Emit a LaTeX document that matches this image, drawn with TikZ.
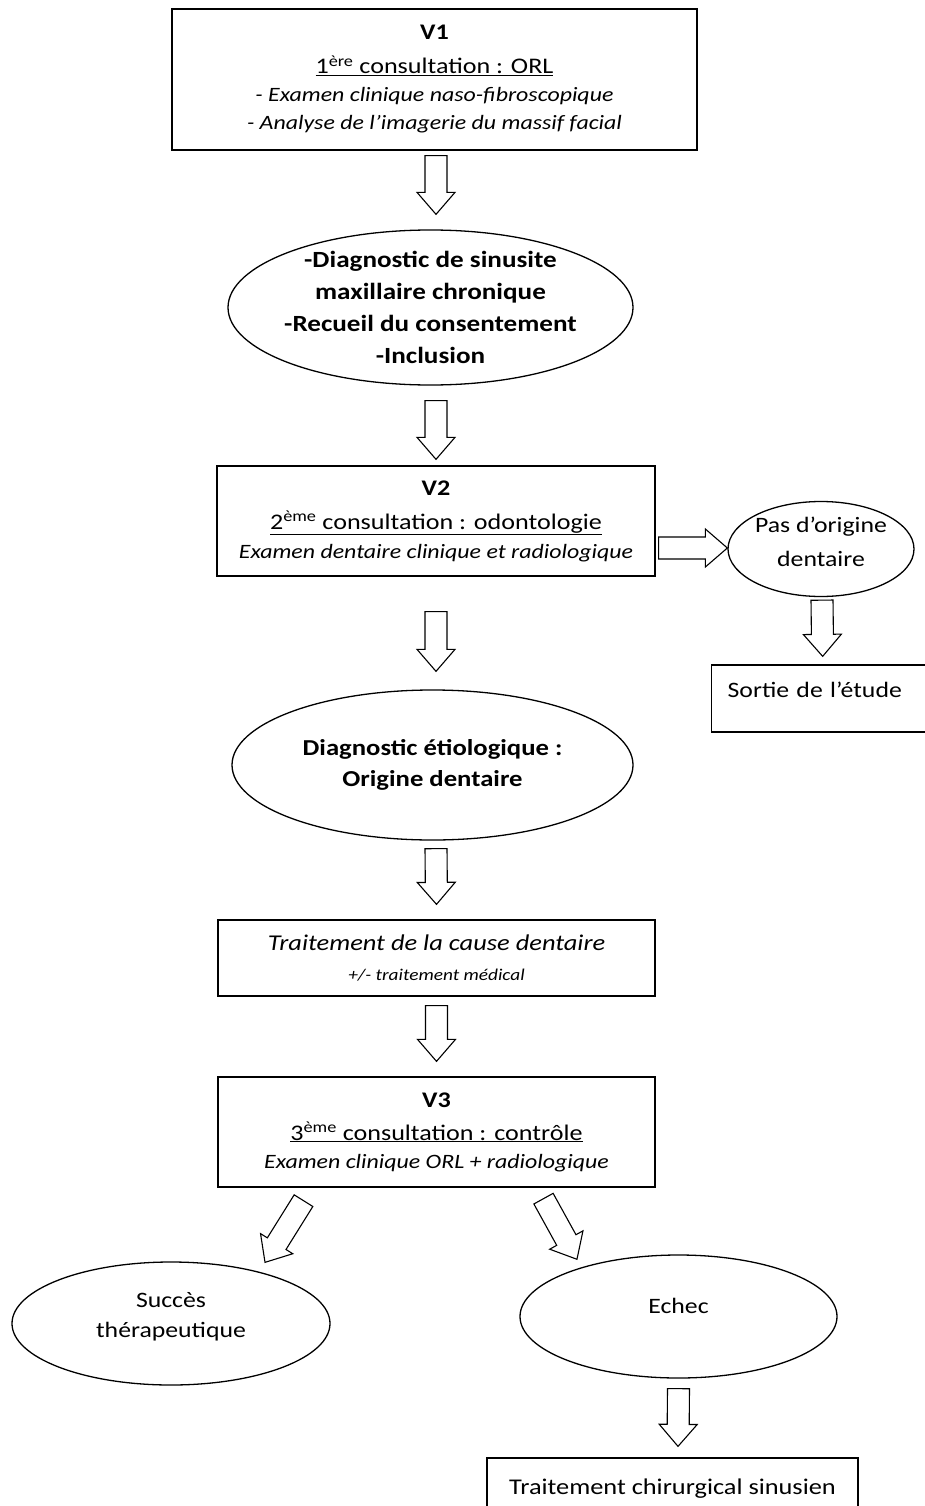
\documentclass[tikz,border=0pt]{standalone}
\usepackage{fontspec}
\setmainfont{Carlito}[FakeStretch=1.17]
\usetikzlibrary{shapes.geometric,calc}
\tikzset{
  box/.style={draw, rectangle, line width=1.3pt, inner sep=0pt, align=center},
  oval/.style={draw, ellipse, line width=1.3pt, inner sep=-40pt, align=center},
  blockarrow/.style={draw, fill=white, line width=1.1pt, line join=miter},
}
\newcommand{\blkarrow}[2]{%
  \path[blockarrow] let \p1=(#1), \p2=(#2),
    \n1={atan2(\y2-\y1,\x2-\x1)}, \n2={veclen(\x2-\x1,\y2-\y1)} in
    [shift={(\p1)}, rotate=\n1]
    (0pt,-11pt) -- ({\n2*1pt-22pt},-11pt) -- ({\n2*1pt-22pt},-19pt) --
    ({\n2*1pt},0pt) -- ({\n2*1pt-22pt},19pt) -- ({\n2*1pt-22pt},11pt) --
    (0pt,11pt) -- cycle;}
\newcommand{\bigsz}{\fontsize{22.3}{28}\selectfont}
\newcommand{\ital}{\fontsize{20.4}{28}\selectfont\itshape}
\begin{document}
\begin{tikzpicture}[x=1pt,y=-1pt]
\useasboundingbox[fill=white] (0,0) rectangle (925,1506);

\node[box, minimum width=525pt, minimum height=141pt, font=\fontsize{20}{28}\selectfont] (v1) at (434.5,79.5)
  {{\bigsz\bfseries V1}\\[6pt]
   {\bigsz\underline{1\textsuperscript{ère} consultation : ORL}}\\
   {\ital - Examen clinique naso-fibroscopique}\\
   {\ital - Analyse de l’imagerie du massif facial}};

\node[oval, minimum width=405pt, minimum height=155pt, font=\fontsize{23.2}{32}\selectfont\bfseries] (e1) at (430.5,307.5)
  {-Diagnostic de sinusite\\maxillaire chronique\\-Recueil du consentement\\-Inclusion};

\node[box, minimum width=438pt, minimum height=110pt, font=\fontsize{20}{29}\selectfont] (v2) at (436,521)
  {{\bigsz\bfseries V2}\\[5pt]
   {\bigsz\underline{2\textsuperscript{ème} consultation : odontologie}}\\
   {\ital Examen dentaire clinique et radiologique}};

\node[oval, minimum width=186pt, minimum height=95pt, font=\fontsize{22}{34}\selectfont, text depth=14pt] (pas) at (821,549)
  {Pas d’origine\\dentaire};

\node[box, anchor=base west, text width=217pt, align=left, inner xsep=16pt, inner ysep=16pt, text height=16pt, text depth=19pt, font=\fontsize{22}{26}\selectfont] (sortie) at (711,697)
  {Sortie de l’étude};

\node[oval, minimum width=401pt, minimum height=150pt, font=\fontsize{22.8}{31}\selectfont\bfseries] (e2) at (432.5,765)
  {Diagnostic étiologique :\\Origine dentaire};

\node[box, minimum width=437pt, minimum height=76pt, font=\fontsize{17}{30}\selectfont] (tr) at (436.5,958)
  {{\fontsize{22.6}{30}\selectfont\itshape Traitement de la cause dentaire}\\
   {\fontsize{16.5}{30}\selectfont\itshape +/- traitement médical}};

\node[box, minimum width=437pt, minimum height=110pt, font=\fontsize{20}{28}\selectfont] (v3) at (436.5,1132)
  {{\bigsz\bfseries V3}\\[5pt]
   {\bigsz\underline{3\textsuperscript{ème} consultation : contrôle}}\\
   {\ital Examen clinique ORL + radiologique}};

\node[oval, minimum width=318pt, minimum height=123pt, font=\fontsize{22}{30}\selectfont, text depth=18pt] (suc) at (171,1323.5)
  {Succès\\thérapeutique};

\node[oval, minimum width=317pt, minimum height=123pt, font=\fontsize{22}{30}\selectfont, text height=15pt, text depth=21pt] (ech) at (678.5,1316.5)
  {Echec};

\node[box, anchor=base, text height=15pt, text depth=40pt, inner xsep=0pt, inner ysep=21pt, minimum width=371pt, font=\fontsize{22.5}{26}\selectfont] (chir) at (672.5,1494)
  {Traitement chirurgical sinusien};

% arrow end points
\coordinate (a1s) at ($(v1.south)+(1.5,5)$);
\coordinate (a1e) at ($(e1.north)+(5.5,-15)$);
\coordinate (a2s) at ($(e1.south)+(5.5,15)$);
\coordinate (a2e) at ($(v2.north)+(0,-6)$);
\coordinate (a3s) at ($(v2.south)+(0,35)$);
\coordinate (a3e) at ($(e2.north)+(3.5,-18)$);
\coordinate (a4s) at ($(e2.south)+(3.5,8)$);
\coordinate (a4e) at ($(tr.north)+(0,-15)$);
\coordinate (a5s) at ($(tr.south)+(0,9)$);
\coordinate (a5e) at ($(v3.north)+(0,-15)$);
\coordinate (a6s) at ($(v2.east)+(3,27)$);
\coordinate (a6e) at ($(pas.west)+(0,-1)$);
\coordinate (a7s) at ($(pas.south)+(1,3)$);
\coordinate (a7e) at ($(sortie.north)+(-13.5,-8)$);
\coordinate (a8s) at ($(v3.south)+(-133,13)$);
\coordinate (a8e) at ($(suc.north)+(94,1)$);
\coordinate (a9s) at ($(v3.south)+(107,11)$);
\coordinate (a9e) at ($(ech.north)+(-101.5,5)$);
\coordinate (a10s) at ($(ech.south)+(0,10)$);
\coordinate (a10e) at ($(chir.north)+(5.5,-11)$);

\blkarrow{a1s}{a1e}
\blkarrow{a2s}{a2e}
\blkarrow{a3s}{a3e}
\blkarrow{a4s}{a4e}
\blkarrow{a5s}{a5e}
\blkarrow{a6s}{a6e}
\blkarrow{a7s}{a7e}
\blkarrow{a8s}{a8e}
\blkarrow{a9s}{a9e}
\blkarrow{a10s}{a10e}
\end{tikzpicture}
\end{document}
